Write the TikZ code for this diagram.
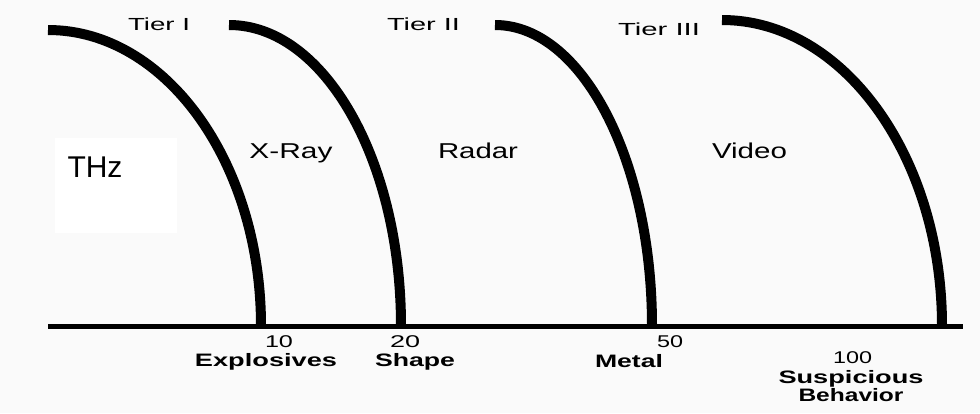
\documentclass[tikz,border=0pt]{standalone}
\usepackage{fontspec}
\setmainfont{Liberation Sans}
\usetikzlibrary{calc}
\newcommand\wbox[2]{\resizebox{#1}{\height}{#2}}
\begin{document}
\begin{tikzpicture}[x=1pt,y=-1pt,
  arcline/.style={line width=10pt,line cap=butt},
  axisline/.style={line width=5.5pt,line cap=butt},
  lbl/.style={inner sep=0pt,anchor=base},
  tierfont/.style={font=\fontsize{17.5}{20}\selectfont},
  techfont/.style={font=\fontsize{21.5}{25}\selectfont},
  numfont/.style={font=\fontsize{17}{20}\selectfont},
  catfont/.style={font=\fontsize{18}{21}\selectfont\bfseries},
]
\fill[black!2] (0,0) rectangle (980,413);
\useasboundingbox (0,0) rectangle (980,413);
\fill[white] (55,138) rectangle (177,233);

% arcs
\coordinate (t1) at (48,30);  \coordinate (b1) at (261,326);
\coordinate (t2) at (229,25); \coordinate (b2) at (401,326);
\coordinate (t3) at (495,25); \coordinate (b3) at (652,326);
\coordinate (t4) at (722,20); \coordinate (b4) at (942,326);
\draw[arcline] (t1) .. controls ($(t1)+(117.6,0)$) and ($(b1)+(0,-163.5)$) .. (b1);
\draw[arcline] (t2) .. controls ($(t2)+(95,0)$) and ($(b2)+(0,-166.2)$) .. (b2);
\draw[arcline] (t3) .. controls ($(t3)+(86.7,0)$) and ($(b3)+(0,-166.2)$) .. (b3);
\draw[arcline] (t4) .. controls ($(t4)+(121.5,0)$) and ($(b4)+(0,-169)$) .. (b4);

% axis
\coordinate (L) at (48,326.5);
\coordinate (R) at (963,326.5);
\draw[axisline] (L) -- (R);

% tier labels
\node[lbl,tierfont] (tier1) at (159,30) {\wbox{62pt}{Tier I}};
\node[lbl,tierfont] (tier2) at (423.5,30) {\wbox{73pt}{Tier II}};
\node[lbl,tierfont] (tier3) at (659,35) {\wbox{82pt}{Tier III}};

% technology labels
\node[lbl,font=\fontsize{30}{34}\selectfont] (thz) at (95,177) {THz};
\node[lbl,techfont] (xray) at (291,158) {\wbox{83pt}{X-Ray}};
\node[lbl,techfont] (radar) at (478,158) {\wbox{80pt}{Radar}};
\node[lbl,techfont] (video) at (749.5,158) {\wbox{75pt}{Video}};

% numbers
\node[lbl,numfont] (n10) at (279,347) {\wbox{28pt}{10}};
\node[lbl,numfont] (n20) at (405,347) {\wbox{30pt}{20}};
\node[lbl,numfont] (n50) at (670,347) {\wbox{26pt}{50}};
\node[lbl,numfont] (n100) at (852.5,363) {\wbox{39pt}{100}};

% categories
\node[lbl,catfont] (expl) at (266,366) {\wbox{142pt}{Explosives}};
\node[lbl,catfont] (shape) at (415,366) {\wbox{80pt}{Shape}};
\node[lbl,catfont] (metal) at (629,367) {\wbox{68pt}{Metal}};
\node[lbl,catfont] (susp) at (851,383) {\wbox{145pt}{Suspicious}};
\node[lbl,catfont] (behav) at (851,401) {\wbox{105pt}{Behavior}};
\end{tikzpicture}
\end{document}
